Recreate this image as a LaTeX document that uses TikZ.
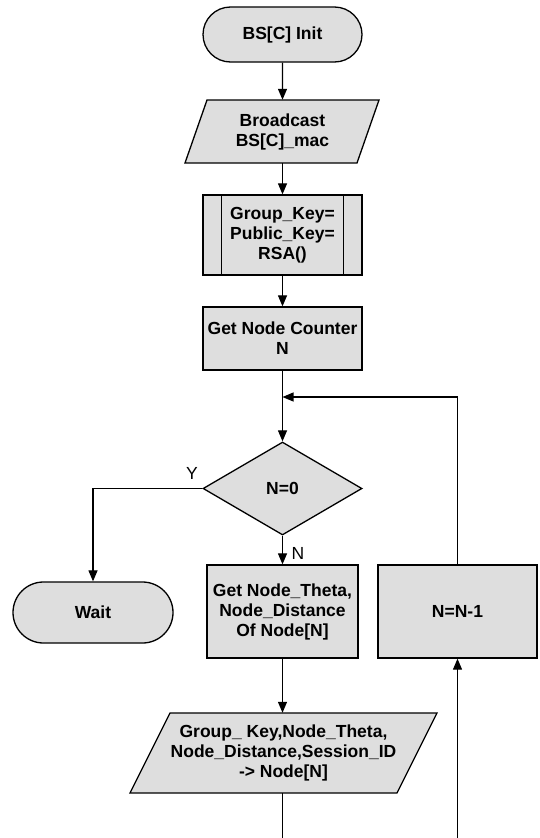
\documentclass[tikz,border=0pt]{standalone}
\usepackage{fontspec}
\setmainfont{Liberation Sans}
\usetikzlibrary{arrows.meta,shapes.geometric,shapes.misc,calc}

\begin{document}
\begin{tikzpicture}[x=1pt,y=-1pt,
  every node/.style={font=\bfseries\fontsize{17.5}{20}\selectfont, align=center, inner sep=0pt},
  shapebox/.style={draw=black, line width=1.3pt, fill=black!13},
  termbox/.style={shapebox, rounded rectangle, minimum width=159pt, minimum height=55pt},
  procbox/.style={shapebox, rectangle, minimum width=159pt},
  decbox/.style={shapebox, diamond, minimum width=159pt, minimum height=93pt},
  textonly/.style={draw=none, fill=none},
  link/.style={line width=1.2pt, -{Triangle[length=11pt,width=9pt]}},
  plainlink/.style={line width=1.2pt},
  lbl/.style={font=\fontsize{17.5}{20}\selectfont}
]
\useasboundingbox (0,0) rectangle (540,838);

% start
\node[termbox] (init) at (282.5,34.5) {BS[C] Init};

% broadcast (input/output)
\filldraw[shapebox] (207,100) -- (379,100) -- (357,163) -- (185,163) -- cycle;
\node[textonly, minimum width=150pt, minimum height=63pt] (bcast) at (282.5,131.5) {Broadcast\\BS[C]\_mac};

% predefined process
\node[procbox, minimum height=80pt] (rsa) at (282.5,235) {Group\_Key=\\Public\_Key=\\RSA()};
\draw[line width=1.3pt] ($(rsa.north west)+(19,0)$) -- ($(rsa.south west)+(19,0)$);
\draw[line width=1.3pt] ($(rsa.north east)+(-19,0)$) -- ($(rsa.south east)+(-19,0)$);

% counter
\node[procbox, minimum height=63pt] (counter) at (282.5,338.5) {Get Node Counter\\N};

% decision
\coordinate (join) at (282.5,397);
\coordinate (loopcorner) at (457.5,397);
\node[decbox] (dec) at (282.5,488.5) {N=0};

% branches
\node[termbox, minimum width=160pt, minimum height=61pt] (wait) at (93,612.5) {Wait};
\node[procbox, minimum width=151pt, minimum height=93pt] (theta) at (282.5,611.5) {Get Node\_Theta,\\Node\_Distance\\Of Node[N]};
\node[procbox, minimum height=93pt] (nminus) at (457.5,611.5) {N=N-1};

% send (input/output)
\filldraw[shapebox] (170,713) -- (437,713) -- (397,793) -- (130,793) -- cycle;
\node[textonly, minimum width=260pt, minimum height=80pt] (send) at (283.5,753) {Group\_ Key,Node\_Theta,\\Node\_Distance,Session\_ID\\-> Node[N]};

\coordinate (outA) at (282.5,838);
\coordinate (outB) at (457.5,838);

% connectors
\draw[link] (init) -- (bcast);
\draw[link] (bcast) -- (rsa);
\draw[link] (rsa) -- (counter);
\draw[link] (counter) -- (dec);
\draw[link] (nminus.north) -- (loopcorner) -- (join);
\draw[link] (dec.west) -| (wait.north);
\draw[link] (dec.south) -- (theta.north);
\draw[link] (theta.south) -- (send.north -| theta.south);
\draw[plainlink] (send.south -| outA) -- (outA);
\draw[link] (outB) -- (nminus.south);

% branch labels
\node[lbl] (ylabel) at (192,473) {Y};
\node[lbl] (nlabel) at (298,553) {N};
\end{tikzpicture}
\end{document}
